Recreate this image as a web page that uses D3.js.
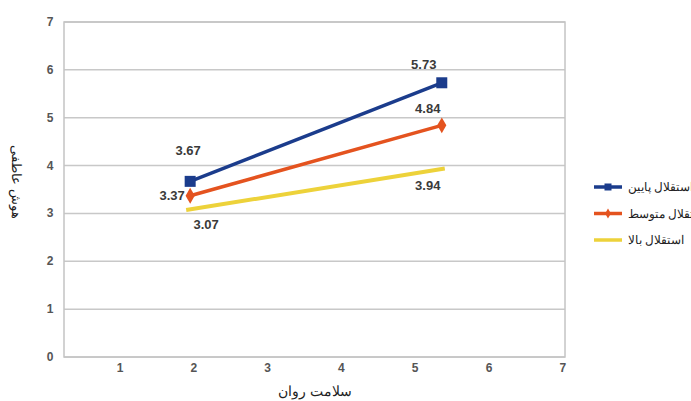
<!DOCTYPE html>
<html lang="fa">
<head>
<meta charset="UTF-8" />
<title>هوش عاطفی و سلامت روان</title>
<script src="https://d3js.org/d3.v7.min.js"></script>
<style>
  body { margin: 0; background: #fff; overflow: hidden; }
  text { font-family: "Liberation Sans", Arial, sans-serif; }
</style>
</head>
<body>
<svg id="chart" width="691" height="401"></svg>
<script>
// data
var xPoints = [1.95, 5.36];
var seriesNames = ["استقلال پایین", "استقلال متوسط", "استقلال بالا"];
var lowValues = [3.67, 5.73];
var midValues = [3.37, 4.84];
var highValues = [3.07, 3.94];
var xTicks = [1, 2, 3, 4, 5, 6, 7];
var yTicks = [0, 1, 2, 3, 4, 5, 6, 7];

var colors = ["#1b3c8c", "#e4531f", "#edd23a"];
var markers = ["square", "diamond", "none"];

var svg = d3.select("#chart");
var plotL = 64, plotR = 565, plotT = 22, plotB = 357;

var x = d3.scaleLinear().domain([0.24, 7.03]).range([plotL, plotR]);
var y = d3.scaleLinear().domain([0, 7]).range([plotB, plotT]);

// grid
svg.append("g").selectAll("line")
  .data(yTicks)
  .enter().append("line")
  .attr("x1", plotL).attr("x2", plotR)
  .attr("y1", d => y(d)).attr("y2", d => y(d))
  .attr("stroke", "#c8c8c8").attr("stroke-width", 1.5);

svg.append("rect")
  .attr("x", plotL).attr("y", plotT)
  .attr("width", plotR - plotL).attr("height", plotB - plotT)
  .attr("fill", "none").attr("stroke", "#c4c4c4").attr("stroke-width", 1.5);

// tick labels
svg.append("g").selectAll("text")
  .data(yTicks)
  .enter().append("text")
  .attr("x", 50).attr("y", d => y(d) + 4)
  .attr("text-anchor", "middle")
  .attr("font-size", 12).attr("font-weight", "bold").attr("fill", "#555")
  .text(d => d);

svg.append("g").selectAll("text")
  .data(xTicks)
  .enter().append("text")
  .attr("x", d => x(d)).attr("y", 372)
  .attr("text-anchor", "middle")
  .attr("font-size", 12).attr("font-weight", "bold").attr("fill", "#555")
  .text(d => d);

// axis titles
svg.append("text")
  .attr("x", 315).attr("y", 396)
  .attr("text-anchor", "middle")
  .attr("font-size", 14).attr("fill", "#222")
  .text("سلامت روان");

svg.append("text")
  .attr("transform", "translate(12,182) rotate(90)")
  .attr("text-anchor", "middle")
  .attr("font-size", 13).attr("fill", "#222")
  .text("هوش عاطفی");

// lines
var allSeries = [lowValues, midValues, highValues];
var line = d3.line().x((d, i) => x(xPoints[i])).y(d => y(d));

function drawMarker(g, type, cx, cy, color, s) {
  if (type === "square") {
    g.append("rect").attr("x", cx - s / 2).attr("y", cy - s / 2)
      .attr("width", s).attr("height", s).attr("fill", color);
  } else if (type === "diamond") {
    g.append("path")
      .attr("d", d3.symbol().type(d3.symbolDiamond).size(s * s * 0.6)())
      .attr("transform", "translate(" + cx + "," + cy + ")")
      .attr("fill", color);
  }
}

allSeries.forEach(function (vals, k) {
  var g = svg.append("g");
  if (markers[k] === "none") {
    g.append("path")
      .attr("d", d3.line()([[x(xPoints[0]) - 4, y(vals[0])], [x(xPoints[1]) + 3, y(vals[1])]]))
      .attr("stroke", colors[k]).attr("stroke-width", 4).attr("fill", "none");
  } else {
    g.append("path").attr("d", line(vals))
      .attr("stroke", colors[k]).attr("stroke-width", 3.5).attr("fill", "none");
  }
  vals.forEach(function (v, i) {
    drawMarker(g, markers[k], x(xPoints[i]), y(v), colors[k], 11);
  });
});

// data labels
var labelOffsets = [
  [[-2, -26], [-18, -14]],
  [[-18, 4], [-14, -12]],
  [[16, 19], [-14, 22]]
];
allSeries.forEach(function (vals, k) {
  vals.forEach(function (v, i) {
    svg.append("text")
      .attr("x", x(xPoints[i]) + labelOffsets[k][i][0])
      .attr("y", y(v) + labelOffsets[k][i][1])
      .attr("text-anchor", "middle")
      .attr("font-size", 13).attr("font-weight", "bold").attr("fill", "#3a3a3a")
      .text(v.toFixed(2));
  });
});

// legend: texts start at the same left edge and run past the right edge of the picture
var legend = svg.append("g");
seriesNames.forEach(function (name, k) {
  var ly = 187 + k * 26.5;
  legend.append("line")
    .attr("x1", 594).attr("x2", 622).attr("y1", ly).attr("y2", ly)
    .attr("stroke", colors[k]).attr("stroke-width", 3.5);
  drawMarker(legend, markers[k], 608, ly, colors[k], 7);
  var t = legend.append("text")
    .attr("x", 628).attr("y", ly + 4)
    .attr("font-size", 12).attr("fill", "#222")
    .text(name);
  var bx = t.node().getBBox().x;
  t.attr("x", 628 + (628 - bx));
});
</script>
</body>
</html>
